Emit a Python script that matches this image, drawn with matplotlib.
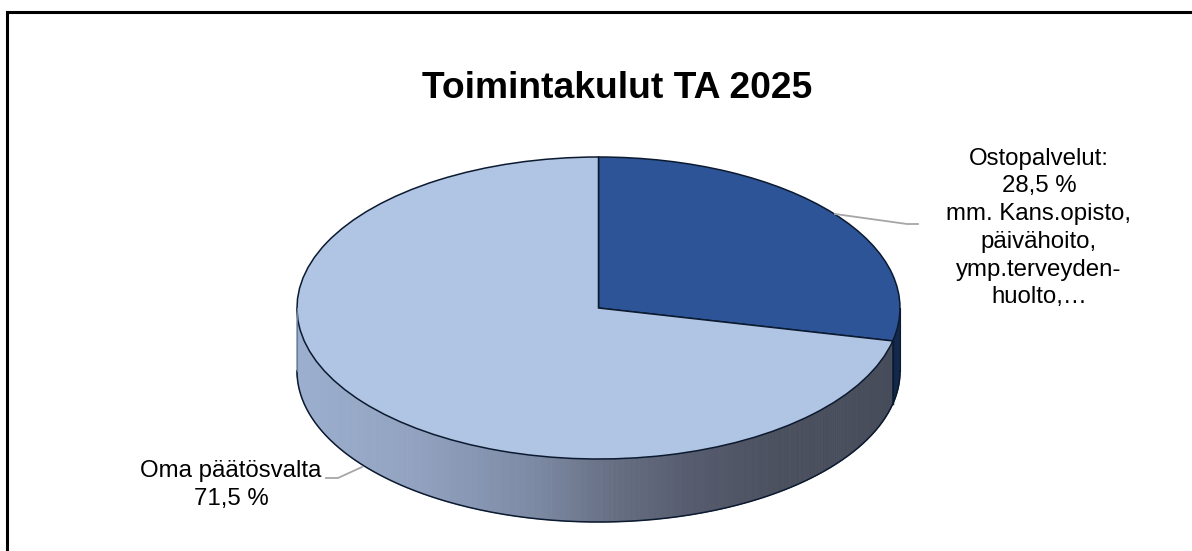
import numpy as np
import matplotlib
matplotlib.use('Agg')
import matplotlib.pyplot as plt
from matplotlib.collections import PolyCollection
from matplotlib.colors import LinearSegmentedColormap

plt.rcParams['font.family'] = ['Liberation Sans', 'DejaVu Sans']

# Data
title = 'Toimintakulut TA 2025'
values = [28.5, 71.5]
colors = ['#2c5496', '#b0c4e3']
label_buy = 'Ostopalvelut:\n28,5 %\nmm. Kans.opisto,\npäivähoito,\nymp.terveyden-\nhuolto,…'
label_own = 'Oma päätösvalta\n71,5 %'

W, H = 1192, 551
fig = plt.figure(figsize=(W / 100, H / 100), dpi=100, facecolor='white')

# Overlay axes in pixel coordinates for frame, labels and leader lines
over = fig.add_axes([0, 0, 1, 1], zorder=2)
over.set_xlim(0, W)
over.set_ylim(H, 0)
over.axis('off')

# Pie axes: x and y scaled differently to get the tilted ellipse
ax = fig.add_axes([297 / W, (H - 459) / H, 603 / W, 302 / H], zorder=1)
depth = 63 / 151
edge = '#0c1a30'

# Shading of the side wall goes from left to right
side_cmap = LinearSegmentedColormap.from_list('side', [
    (0.0, '#9cafce'), (0.2, '#91a2c0'), (0.4, '#7c89a3'),
    (0.5, '#6a7388'), (0.65, '#565c6e'), (0.8, '#4b505f'), (1.0, '#474c5b')])

# Wedge boundaries, clockwise from the top
boundary = 90 - np.cumsum(values) * 3.6
split = np.radians(boundary[0])  # between the two slices on the right

theta = np.linspace(-np.pi, split, 400)
polys = []
cols = []
for a, b in zip(theta[:-1], theta[1:]):
    xa, xb = np.cos(a), np.cos(b)
    ya, yb = np.sin(a), np.sin(b)
    polys.append([(xa, ya), (xb, yb), (xb, yb - depth), (xa, ya - depth)])
    cols.append(side_cmap((xa + xb + 2) / 4))
ax.add_collection(PolyCollection(polys, facecolors=cols, edgecolors=cols,
                                 linewidths=0.6, clip_on=False))

# Navy piece of the first slice visible at the far right
theta_r = np.linspace(split, 0, 30)
xr = np.cos(theta_r)
yr = np.sin(theta_r)
ax.fill(np.r_[xr, xr[::-1]], np.r_[yr, yr[::-1] - depth], color='#13284a',
        clip_on=False)
ax.plot([np.cos(split)] * 2, [np.sin(split), np.sin(split) - depth],
        color=edge, lw=1, clip_on=False)

# Outline of the wall
arc = np.linspace(-np.pi, 0, 300)
ax.plot(np.cos(arc), np.sin(arc) - depth, color=edge, lw=1.1, clip_on=False)
ax.plot([-1, -1], [0, -depth], color='#6f7c95', lw=0.8, clip_on=False)
ax.plot([1, 1], [0, -depth], color=edge, lw=0.8, clip_on=False)

# Top face
ax.pie(values, colors=colors, startangle=90, counterclock=False, radius=1,
       wedgeprops=dict(edgecolor=edge, linewidth=1.1, clip_on=False))
ax.set_aspect('auto')
ax.set_xlim(-1, 1)
ax.set_ylim(-1, 1)
ax.axis('off')

# Frame: only the left and top sides fall inside the picture
over.plot([7, 7, W], [H, 12, 12], color='black', lw=2.2,
          solid_joinstyle='miter', clip_on=False)

over.text(617, 89, title, fontsize=26.8, fontweight='bold', ha='center',
          va='center', color='black')

# Leader lines
leader = '#a6a6a6'
over.plot([835, 907, 918], [214, 224, 224], color=leader, lw=1.3)
over.plot([362, 338, 326], [467, 478, 478], color=leader, lw=1.3)

over.text(1039, 228, label_buy, fontsize=17.3, ha='center', va='center',
          linespacing=1.34, color='black')
over.text(231, 485, label_own, fontsize=17.3, ha='center', va='center',
          linespacing=1.34, color='black')

fig.savefig('out.png', dpi=100, facecolor='white')
